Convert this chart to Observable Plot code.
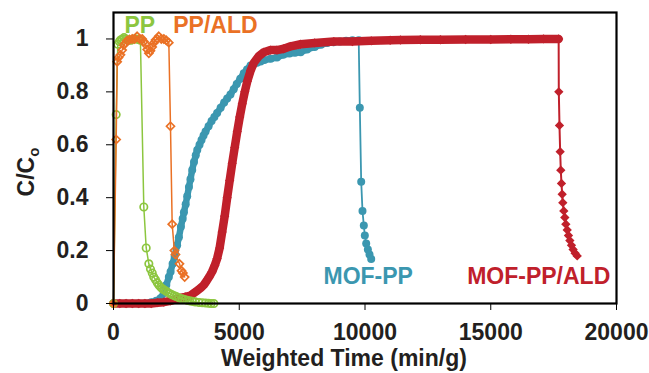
<!DOCTYPE html>
<html>
<head>
<meta charset="utf-8">
<script src="https://cdn.jsdelivr.net/npm/d3@7"></script>
<script src="https://cdn.jsdelivr.net/npm/@observablehq/plot@0.6"></script>
<style>
  html, body { margin: 0; padding: 0; background: #fff; }
  #chart { width: 649px; height: 373px; }
</style>
</head>
<body>
<div id="chart"></div>
<script>
// ---- data ----
const xTicks = [0, 5000, 10000, 15000, 20000];
const yTicks = [0, 0.2, 0.4, 0.6, 0.8, 1];

const seriesNames = ["PP", "PP/ALD", "MOF-PP", "MOF-PP/ALD"];

// PP (open circles)
const ppX = [0, 107, 170, 230, 280, 350, 420, 500, 600, 700, 800, 900, 1000, 1070,
  1205, 1300, 1405, 1470, 1540, 1600, 1670, 1740, 1800, 1870, 1940, 2000, 2080, 2160,
  2250, 2330, 2420, 2500, 2600, 2730, 2830, 2930, 3030, 3130, 3250, 3400, 3530, 3660, 3780, 3880, 3990];
const ppY = [0, 0.714, 0.98, 0.99, 0.996, 1.0, 1.005, 1.0, 0.995, 0.995, 1.0, 1.0, 0.998, 0.995,
  0.365, 0.21, 0.15, 0.13, 0.115, 0.10, 0.09, 0.078, 0.07, 0.062, 0.056, 0.052, 0.047, 0.042,
  0.037, 0.033, 0.029, 0.026, 0.022, 0.018, 0.015, 0.012, 0.010, 0.008, 0.006, 0.004, 0.003, 0.002, 0.001, 0.0, 0.0];

// PP/ALD (open diamonds)
const ppAldX = [0, 107, 147, 200, 278, 345, 410, 480, 545, 640, 743, 840, 940, 1040, 1140, 1210, 1270,
  1340, 1405, 1470, 1540, 1600, 1670, 1740, 1800, 1900, 2000, 2100, 2200,
  2266, 2333, 2420, 2465, 2624, 2704, 2760, 2830];
const ppAldY = [0, 0.62, 0.914, 0.93, 0.94, 0.958, 0.977, 0.985, 0.994, 0.998, 1.0, 1.0, 1.01, 1.0, 1.0, 0.99, 0.98,
  0.96, 0.946, 0.955, 0.97, 0.985, 0.996, 1.0, 1.01, 1.0, 1.0, 0.995, 0.986,
  0.67, 0.30, 0.20, 0.185, 0.15, 0.124, 0.115, 0.10];

// MOF-PP (filled circles): breakthrough part, then the drop
const mofX = [0, 250, 500, 750, 1000, 1250, 1500, 1700, 1870, 2000, 2100, 2200, 2270, 2350, 2430, 2530, 2600,
  2680, 2750, 2800, 2870, 2930, 3000, 3060, 3130, 3200, 3270, 3330, 3420, 3500, 3580, 3660, 3780, 3900, 4010,
  4120, 4260, 4400, 4520, 4650, 4780, 4900, 5040, 5180, 5310, 5450, 5580, 5710, 5850, 6000, 6250, 6500,
  6750, 7000, 7220, 7440, 7700, 8000, 8250, 8500, 8750, 9000, 9250, 9500, 9750];
const mofY = [0, 0, 0, 0, 0, 0, 0.005, 0.01, 0.02, 0.04, 0.07, 0.10, 0.12, 0.15, 0.18, 0.22, 0.25,
  0.29, 0.32, 0.345, 0.375, 0.405, 0.44, 0.47, 0.505, 0.535, 0.56, 0.58, 0.60, 0.618, 0.635, 0.65, 0.67, 0.69, 0.705,
  0.72, 0.74, 0.76, 0.775, 0.79, 0.81, 0.83, 0.85, 0.87, 0.885, 0.90, 0.905, 0.91, 0.915, 0.92, 0.925, 0.93,
  0.94, 0.945, 0.948, 0.95, 0.96, 0.97, 0.978, 0.985, 0.988, 0.99, 0.993, 0.995, 0.995];
const mofDropX = [9794, 9849, 9900, 9953, 9993, 10048, 10114, 10179, 10246];
const mofDropY = [0.74, 0.46, 0.35, 0.295, 0.257, 0.227, 0.204, 0.185, 0.168];

// MOF-PP/ALD (filled diamonds): breakthrough part, then the drop
const mofAldX = [0, 250, 500, 750, 1000, 1250, 1500, 1750, 2000, 2270, 2600, 2850, 3060, 3200, 3350, 3480,
  3590, 3700, 3800, 3920, 4030, 4120, 4220, 4320, 4420, 4520, 4620, 4720, 4820, 4920, 5020, 5120, 5220,
  5320, 5450, 5580, 5780, 5980, 6240, 6500, 6770, 7040, 7440, 8000, 8760, 9500, 10250, 11000, 11410, 12200,
  13000, 14000, 15000, 15800, 16500, 17100, 17700];
const mofAldY = [0, 0, 0, 0, 0, 0, 0, 0.003, 0.005, 0.01, 0.02, 0.025, 0.03, 0.04, 0.05, 0.06,
  0.07, 0.085, 0.10, 0.12, 0.145, 0.17, 0.21, 0.27, 0.33, 0.40, 0.465, 0.53, 0.59, 0.65, 0.705, 0.755, 0.80,
  0.84, 0.88, 0.91, 0.935, 0.95, 0.958, 0.958, 0.963, 0.972, 0.98, 0.985, 0.99, 0.99, 0.993, 0.995, 0.996, 0.997,
  0.997, 0.998, 0.998, 0.999, 0.999, 1.0, 1.0];
const mofAldDropX = [17706, 17733, 17760, 17785, 17812, 17840, 17865, 17905, 17945, 17985, 18040, 18090,
  18145, 18210, 18275, 18355, 18437];
const mofAldDropY = [0.80, 0.673, 0.574, 0.504, 0.454, 0.413, 0.381, 0.35, 0.325, 0.30, 0.278, 0.257,
  0.238, 0.22, 0.204, 0.19, 0.18];

// ---- build tables ----
const zip = (xs, ys) => xs.map((x, i) => ({x, y: ys[i]}));
const pp = zip(ppX, ppY);
const ppAld = zip(ppAldX, ppAldY);
const mof = zip(mofX, mofY);
const mofAll = mof.concat(zip(mofDropX, mofDropY));
const mofAld = zip(mofAldX, mofAldY);
const mofAldAll = mofAld.concat(zip(mofAldDropX, mofAldDropY));

const C = {pp: "#8cc63f", ppAld: "#ea7125", mof: "#3b97b0", mofAld: "#c0202b"};
const ink = "#231f20";

const plot = Plot.plot({
  width: 649,
  height: 373,
  marginLeft: 113,
  marginRight: 33,
  marginTop: 12,
  marginBottom: 70,
  style: {fontFamily: "'Liberation Sans', Arial, sans-serif", fontSize: "23px", fontWeight: "bold", color: ink, background: "#fff"},
  x: {domain: [0, 20000]},
  y: {domain: [0, 1.1]},
  marks: [
    // MOF-PP
    Plot.line(mofAll, {x: "x", y: "y", stroke: C.mof, strokeWidth: 1.8}),
    Plot.line(mof, {x: "x", y: "y", stroke: C.mof, strokeWidth: 6.5}),
    Plot.dot(mofAll, {x: "x", y: "y", r: 4, fill: C.mof, stroke: "none"}),
    // MOF-PP/ALD
    Plot.line(mofAldAll, {x: "x", y: "y", stroke: C.mofAld, strokeWidth: 2}),
    Plot.line(mofAld, {x: "x", y: "y", stroke: C.mofAld, strokeWidth: 8.5}),
    Plot.dot(mofAldAll, {x: "x", y: "y", r: 4.2, symbol: "diamond2", fill: C.mofAld, stroke: "none"}),
    // PP
    Plot.line(pp, {x: "x", y: "y", stroke: C.pp, strokeWidth: 1.5}),
    Plot.dot(pp, {x: "x", y: "y", r: 3.7, fill: "white", fillOpacity: 0, stroke: C.pp, strokeWidth: 1.7}),
    // PP/ALD
    Plot.line(ppAld, {x: "x", y: "y", stroke: C.ppAld, strokeWidth: 1.5}),
    Plot.dot(ppAld, {x: "x", y: "y", r: 3.6, symbol: "diamond2", fill: "white", fillOpacity: 0, stroke: C.ppAld, strokeWidth: 1.7}),
    // frame & axes
    Plot.frame({stroke: "black", strokeWidth: 2.2}),
    Plot.axisX({ticks: xTicks, tickFormat: d => String(d), tickSize: 7, tickPadding: 13, tickWidth: 2.2, stroke: "black", label: null, fill: ink}),
    Plot.axisY({ticks: yTicks, tickFormat: d => String(+d.toFixed(1)), tickSize: 7, tickPadding: 18, tickWidth: 2.2, stroke: "black", label: null, fill: ink}),
    // series labels
    Plot.text([seriesNames[0]], {x: 437, y: 1.023, text: d => d, fill: C.pp, textAnchor: "start", lineAnchor: "bottom", fontSize: 23, fontWeight: "bold"}),
    Plot.text([seriesNames[1]], {x: 2374, y: 1.023, text: d => d, fill: C.ppAld, textAnchor: "start", lineAnchor: "bottom", fontSize: 23, fontWeight: "bold"}),
    Plot.text([seriesNames[2]], {x: 8350, y: 0.073, text: d => d, fill: C.mof, textAnchor: "start", lineAnchor: "bottom", fontSize: 23, fontWeight: "bold"}),
    Plot.text([seriesNames[3]], {x: 14063, y: 0.073, text: d => d, fill: C.mofAld, textAnchor: "start", lineAnchor: "bottom", fontSize: 23, fontWeight: "bold"})
  ]
});

const svg = d3.select(plot);
// x axis title
svg.append("text")
  .attr("x", 344).attr("y", 366)
  .attr("text-anchor", "middle")
  .attr("fill", ink)
  .style("font-family", "'Liberation Sans', Arial, sans-serif")
  .style("font-size", "23px").style("font-weight", "bold")
  .text("Weighted Time (min/g)");
// y axis title C/Co
const yt = svg.append("text")
  .attr("transform", "translate(34,172) rotate(-90)")
  .attr("text-anchor", "middle")
  .attr("fill", ink)
  .style("font-family", "'Liberation Sans', Arial, sans-serif")
  .style("font-size", "23px").style("font-weight", "bold");
yt.append("tspan").text("C/C");
yt.append("tspan").attr("dy", "0.35em").style("font-size", "15px").text("o");

document.getElementById("chart").appendChild(plot);
</script>
</body>
</html>
